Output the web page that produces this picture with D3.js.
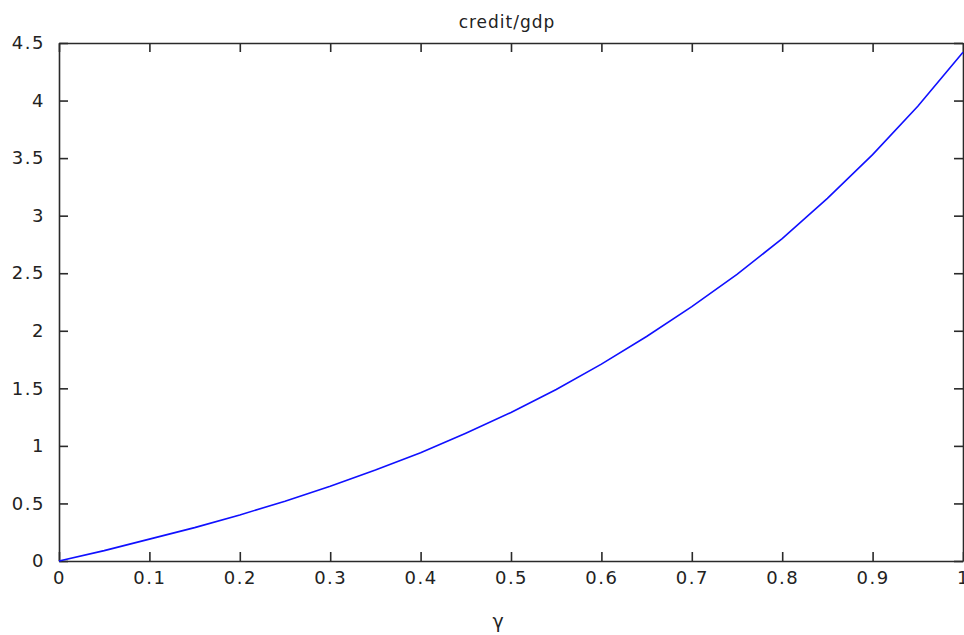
<!DOCTYPE html>
<html>
<head>
<meta charset="utf-8">
<script src="https://cdn.jsdelivr.net/npm/d3@7"></script>
<style>
  body { margin: 0; background: #fff; }
  svg text { font-family: "DejaVu Sans", sans-serif; fill: #222; }
</style>
</head>
<body>
<div></div>
<script>
//datos
var gammaVals = [0, 0.05, 0.1, 0.15, 0.2, 0.25, 0.3, 0.35, 0.4, 0.45, 0.5,
                 0.55, 0.6, 0.65, 0.7, 0.75, 0.8, 0.85, 0.9, 0.95, 1]
var creditGdp = [0, 0.09, 0.19, 0.29, 0.40, 0.52, 0.65, 0.79, 0.94, 1.11, 1.29,
                 1.49, 1.71, 1.95, 2.21, 2.49, 2.80, 3.15, 3.53, 3.95, 4.42]
var xTicks = [0, 0.1, 0.2, 0.3, 0.4, 0.5, 0.6, 0.7, 0.8, 0.9, 1]
var yTicks = [0, 0.5, 1, 1.5, 2, 2.5, 3, 3.5, 4, 4.5]
var titulo = 'credit/gdp'
var xLabel = 'γ'

//dimensiones (ojo: 'top' es reservado en window)
var w = 964
var h = 635
var mLeft = 59, mRight = 963, mTop = 43, mBottom = 561

var svg = d3.select('div')
    .append('svg')
    .attr('width', w)
    .attr('height', h)

var scaleX = d3.scaleLinear().domain([0, 1]).range([mLeft, mRight])
var scaleY = d3.scaleLinear().domain([0, 4.5]).range([mBottom, mTop])

var fmt = function(d) { return String(d) }

//ejes (ticks hacia dentro, como matlab)
var xaxis = d3.axisBottom(scaleX).tickValues(xTicks).tickFormat(fmt)
    .tickSize(-9).tickSizeOuter(0).tickPadding(10)
var yaxis = d3.axisLeft(scaleY).tickValues(yTicks).tickFormat(fmt)
    .tickSize(-9).tickSizeOuter(0).tickPadding(14)
var xtop = d3.axisTop(scaleX).tickValues(xTicks).tickFormat('')
    .tickSize(-9).tickSizeOuter(0)
var yright = d3.axisRight(scaleY).tickValues(yTicks).tickFormat('')
    .tickSize(-9).tickSizeOuter(0)

function estilo(g) {
    g.selectAll('path').attr('stroke', '#2a2a2a').attr('stroke-width', 1.6)
    g.selectAll('line').attr('stroke', '#2a2a2a').attr('stroke-width', 1.6)
    g.selectAll('text').attr('font-size', 18).attr('letter-spacing', 1.5)
        .attr('fill', '#222').attr('font-family', '"DejaVu Sans", sans-serif')
}

svg.append('g').attr('transform', 'translate(0,' + mBottom + ')').call(xaxis).call(estilo)
svg.append('g').attr('transform', 'translate(' + mLeft + ',0)').call(yaxis).call(estilo)
svg.append('g').attr('transform', 'translate(0,' + mTop + ')').call(xtop).call(estilo)
svg.append('g').attr('transform', 'translate(' + mRight + ',0)').call(yright).call(estilo)

//la curva
var linea = d3.line()
    .x(function(d, i) { return scaleX(gammaVals[i]) })
    .y(function(d) { return scaleY(d) })

svg.append('path')
    .datum(creditGdp)
    .attr('d', linea)
    .attr('fill', 'none')
    .attr('stroke', '#1010ff')
    .attr('stroke-width', 1.6)

//titulo y etiqueta
svg.append('text')
    .attr('x', (mLeft + mRight) / 2 - 4)
    .attr('y', 28)
    .attr('text-anchor', 'middle')
    .attr('font-size', 17)
    .attr('letter-spacing', 1)
    .text(titulo)

svg.append('text')
    .attr('x', (mLeft + mRight) / 2 - 13)
    .attr('y', 628)
    .attr('text-anchor', 'middle')
    .attr('font-size', 19)
    .text(xLabel)
</script>
</body>
</html>
